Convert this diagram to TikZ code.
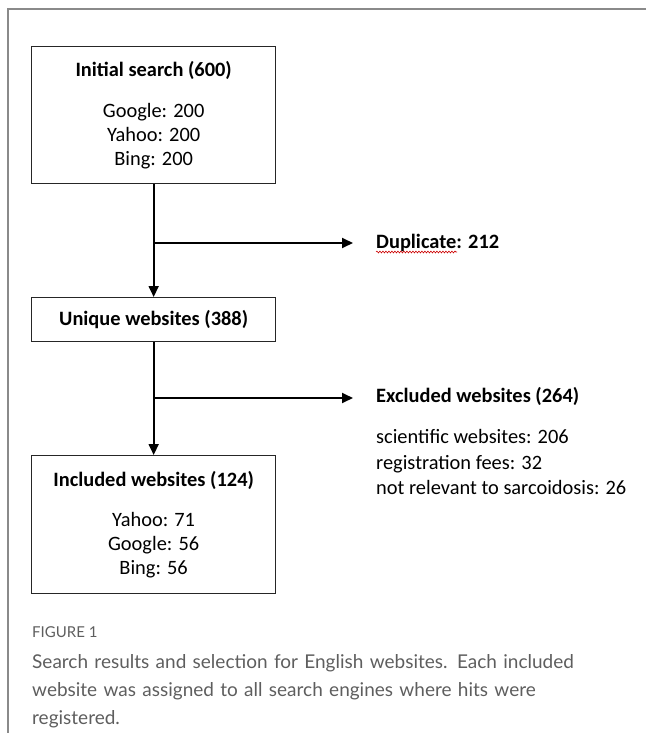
\documentclass[tikz,border=0pt]{standalone}
\usepackage{fontspec}
\setmainfont{Carlito}
\newfontfamily\capfont{Lato}
\usetikzlibrary{arrows.meta,decorations.pathmorphing}
\definecolor{framegray}{HTML}{8A8A8A}
\definecolor{capgray}{HTML}{5E5E5E}
\begin{document}
\begin{tikzpicture}[x=1pt,y=-1pt,
  box/.style={draw=black!85, line width=1.3pt, minimum width=244pt, inner sep=0pt, align=center, font=\fontsize{20.4}{24}\selectfont},
  lbl/.style={inner sep=0pt, font=\fontsize{20.4}{24}\selectfont, align=left},
  arr/.style={line width=1.8pt, -{Triangle[length=11pt,width=10pt]}},
  ln/.style={line width=1.8pt}]
\useasboundingbox (0,0) rectangle (646,733);
\draw[framegray, line width=2pt] (646,9) -| (8,733);

\node[box, minimum height=137pt, anchor=north west] (init) at (31,46)
  {\textbf{Initial search (600)}\\[17pt]Google: 200\\Yahoo: 200\\Bing: 200};
\node[box, minimum height=44pt, anchor=north west] (uniq) at (31,297)
  {\textbf{Unique websites (388)}};
\node[box, minimum height=138pt, anchor=north west] (incl) at (31,455)
  {\textbf{Included websites (124)}\\[16pt]Yahoo: 71\\Google: 56\\Bing: 56};

\node[lbl, anchor=west] (dup) at (376,243) {\textbf{Duplicate: 212}};
\node[lbl, anchor=west] (excl) at (376,396) {\textbf{Excluded websites (264)}};
\node[lbl, anchor=north west] (exlist) at (376,429.5)
  {scientific websites: 206\\[1.5pt]registration fees: 32\\[1.5pt]not relevant to sarcoidosis: 26};

\draw[red!80!black, line width=0.6pt, decorate, decoration={snake, amplitude=0.9pt, segment length=3pt}]
  ([yshift=-9pt]dup.west) -- ([xshift=81pt,yshift=-9pt]dup.west);

\draw[arr] (init.south) -- (uniq.north);
\draw[arr] (uniq.south) -- (incl.north);
\coordinate (b1) at (155,243);
\coordinate (b2) at (155,398);
\draw[arr, shorten >=23pt] (b1) -- (b1 -| dup.west);
\draw[arr, shorten >=23pt] (b2) -- (b2 -| excl.west);

\node[inner sep=0pt, anchor=west, text=capgray, font=\capfont\fontsize{15}{18}\selectfont] (fig) at (32,632) {FIGURE 1};
\node[inner sep=0pt, anchor=north west, text=capgray, text width=600pt, align=left,
  font=\capfont\fontsize{19}{28}\selectfont] (cap) at (32,654)
  {Search results and selection for English websites. Each included\\website was assigned to all search engines where hits were\\registered.};
\end{tikzpicture}
\end{document}
